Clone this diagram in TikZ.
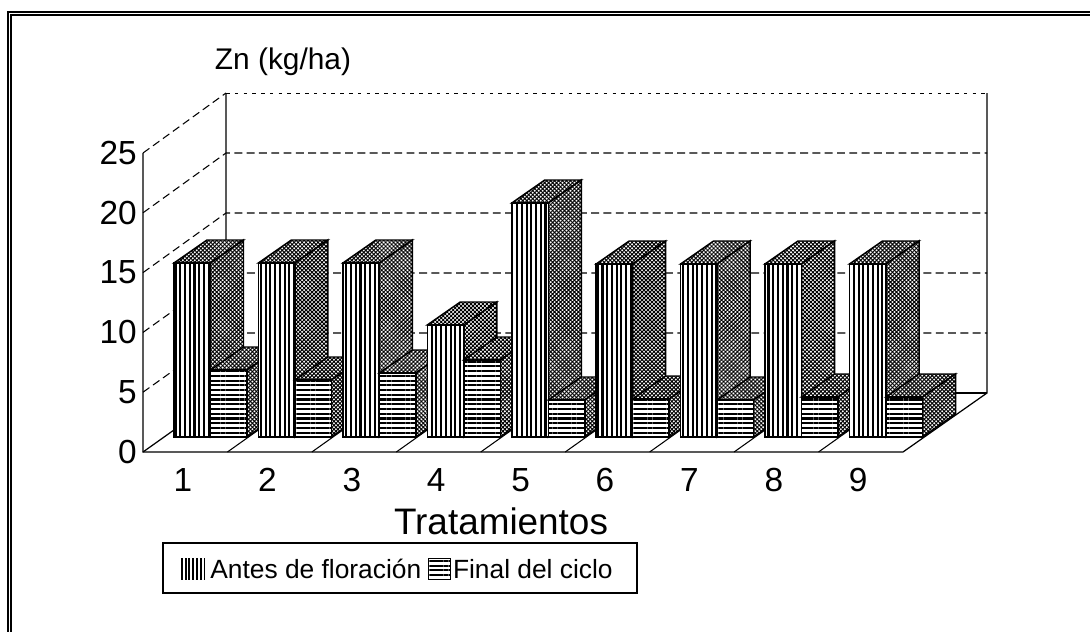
\documentclass[tikz,border=0pt]{standalone}
\usepackage{fontspec}
\setmainfont{Liberation Sans}
\usetikzlibrary{patterns.meta,positioning}
\begin{document}
\begin{tikzpicture}[x=0.02cm,y=-0.02cm,
  wallline/.style={line width=0.7pt},
  gridline/.style={line width=0.6pt, dash pattern=on 4.5pt off 2.5pt},
  topgrid/.style={line width=0.55pt, dash pattern=on 2pt off 3pt},
  face/.style={draw=black, line width=0.85pt, line join=miter},
  vstripe/.style={face, preaction={fill=white}, pattern={Lines[angle=90,distance=2.7pt,line width=1.2pt]}},
  hstripe/.style={face, preaction={fill=white}, pattern={Lines[angle=0,distance=2.7pt,line width=1.2pt]}},
  chk/.style={face, preaction={fill=white}, pattern={Hatch[angle=45,distance=1.6pt,line width=0.55pt]}},
  axlab/.style={font=\fontsize{19}{22}\selectfont},
  leglab/.style={font=\fontsize{15}{18}\selectfont, inner sep=0pt}]
\useasboundingbox (0,0) rectangle (1090,632);
% outer frame (double line)
\draw[line width=0.9pt] (8,632) -- (8,12) -- (1090,12);
\draw[line width=0.9pt] (11,632) -- (11,15) -- (1090,15);
% chart corners
\coordinate (FL) at (143,452);
\coordinate (FR) at (903,452);
\coordinate (BL) at (226,393);
\coordinate (BR) at (987,393);
\coordinate (TL) at (226,93);
\coordinate (TR) at (987,93);
\coordinate (AL) at (143,153);
% grid lines
\foreach \k in {1,...,4}{
  \pgfmathsetmacro{\yf}{452-59.8*\k}
  \pgfmathsetmacro{\yb}{393-60*\k}
  \draw[gridline] (143,\yf) -- (226,\yb) -- (987,\yb);
}
\draw[gridline] (AL) -- (TL);
\draw[topgrid] (TL) -- (TR);
% walls
\draw[wallline] (AL) -- (FL) -- (FR) -- (BR) -- (TR);
\draw[wallline] (FL) -- (BL) -- (TL);
\draw[wallline] (BL) -- (BR);
\foreach \i in {1,...,8}{
  \pgfmathsetmacro{\xa}{143+84.44*\i}
  \pgfmathsetmacro{\xb}{226+84.44*\i}
  \draw[line width=0.6pt] (\xa,452) -- (\xb,393);
}
% bars: s / antes top / final top
\def\w{36.5}
\def\b{437}
\foreach \s/\a/\f in {174/263/370, 258.4/263/380, 342.9/263/373, 427.3/325/360,
  511.8/203/400, 596.2/264/399, 680.6/264/400, 765/264/397, 849.5/264/397}{
  \pgfmathsetmacro{\sa}{\s+\w}
  \pgfmathsetmacro{\sb}{\s+2*\w}
  % antes bar
  \path[chk] (\s,\a) -- (\s+33,\a-23) -- (\sa+33,\a-23) -- (\sa,\a) -- cycle;
  \path[chk] (\sa,\a) -- (\sa+33,\a-23) -- (\sa+33,\b-23) -- (\sa,\b) -- cycle;
  \path[vstripe] (\s,\a) rectangle (\sa,\b);
  % final bar
  \path[chk] (\sa,\f) -- (\sa+33,\f-23) -- (\sb+33,\f-23) -- (\sb,\f) -- cycle;
  \path[chk] (\sb,\f) -- (\sb+33,\f-23) -- (\sb+33,\b-23) -- (\sb,\b) -- cycle;
  \path[hstripe] (\sa,\f) rectangle (\sb,\b);
}
% y axis labels
\foreach \v [count=\k from 0] in {0,5,10,15,20,25}{
  \pgfmathsetmacro{\yy}{452-59.8*\k}
  \node[axlab, anchor=east, inner sep=0pt] (y\v) at (137,\yy) {\v};
}
% x axis labels
\foreach \i in {1,...,9}{
  \pgfmathsetmacro{\xx}{183+84.4*(\i-1)}
  \node[axlab] (x\i) at (\xx,480) {\i};
}
\node[font=\fontsize{17}{20}\selectfont] (title) at (283,62) {Zn (kg/ha)};
\node[font=\fontsize{21}{24}\selectfont] (xtitle) at (501,521) {Tratamientos};
% legend
\draw[line width=0.6pt] (163,543) rectangle (637,593);
\node[inner sep=0pt, minimum width=0.48cm, minimum height=0.42cm,
  preaction={fill=white}, pattern={Lines[angle=90,distance=2.2pt,line width=1.1pt]}] (icon1) at (193,569) {};
\node[leglab, right=0.08cm of icon1] (leg1) {Antes de floración};
\node[hstripe, line width=0.6pt, inner sep=0pt, minimum width=0.44cm, minimum height=0.42cm,
  right=0.12cm of leg1] (icon2) {};
\node[leglab, right=0.04cm of icon2] (leg2) {Final del ciclo};
\end{tikzpicture}
\end{document}
